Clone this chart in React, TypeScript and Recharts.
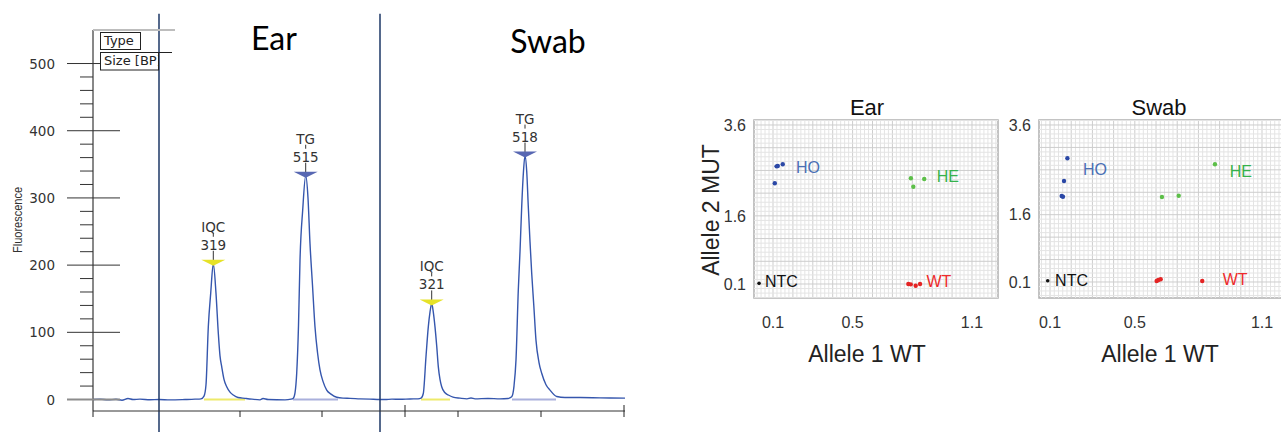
import React from 'react';
import {
  ComposedChart,
  Line,
  XAxis,
  YAxis,
  ReferenceLine,
  ReferenceDot,
  ReferenceArea,
  ScatterChart,
  Scatter,
} from 'recharts';

// ---- electropherogram trace (scan position vs fluorescence) ----
const scan = [
  0, 7, 15, 23, 29, 35, 40, 47, 57, 66, 77, 92, 102, 108, 111, 113, 115.3, 117.7, 120.3, 123, 125.3,
  127, 128.7, 131, 133.7, 137, 140.3, 145, 152, 159, 167, 170, 175, 192, 198, 200.3, 202, 203.7,
  205.5, 207, 209.7, 212.7, 215, 217, 219.5, 222, 224.5, 227, 230, 233.7, 238, 243.7, 250, 257,
  267, 277, 287, 292, 299, 307, 317, 325, 328, 330.3, 333, 335.3, 337, 338.7, 340.3, 342, 343.7,
  345.3, 347, 348.7, 352, 355.3, 360, 367, 374, 378, 382, 395, 407, 415, 418.7, 421, 423, 425.3,
  427, 428.7, 430.5, 432, 433.7, 435.3, 437, 438.7, 440.8, 443, 446, 448.7, 453, 457, 463.7, 472,
  487, 507, 532,
];
const rfu = [
  0, 0.5, -0.6, 0.3, -1, 1.5, 0, 0.5, -0.3, 0, -0.5, 0, 0.5, 1, 5, 22, 108, 158, 202, 158, 99,
  65, 49, 30, 19, 11, 6.7, 3, 1.7, 0.5, -0.5, 1.5, 0, -0.5, 0.5, 2, 10, 39,
  110, 207, 282, 333, 300, 232, 170, 108, 70, 44, 27, 14, 8, 3.3, 2, 1.7,
  1, 0.5, 0, 0, 0.5, 0.3, 0.8, 1, 2, 9, 64, 108, 130, 143, 130, 108, 80,
  49, 30, 19, 10, 6.7, 3.5, 2, 1, 2.2, 1, 1.5, 1, 1.5, 4, 20, 59, 163,
  220, 287, 340, 363, 340, 287, 235, 188, 140, 88, 55, 39, 22, 14, 4.5, 3,
  3, 2.5, 2,
];

// called peaks
const peakScan = [120.3, 212.7, 338.7, 432];
const peakRfu = [202, 333, 143, 363];
const peakName = ['IQC', 'TG', 'IQC', 'TG'];
const peakSize = ['319', '515', '321', '518'];

// baseline windows under each peak
const binStart = [111, 200, 328, 419];
const binEnd = [152, 245, 357, 463];

const fluorTicks = [
  0, 20, 40, 60, 80, 100, 120, 140, 160, 180, 200, 220, 240, 260, 280, 300, 320, 340, 360, 380,
  400, 420, 440, 460, 480, 500,
];
const scanTicks = [0, 147, 229, 312, 365, 448, 531];
const scanStarts = [312, 531];
const sampleDividers = [66, 287];

// ---- allelic discrimination plots ----
const alleleTicksX = [0.1, 0.5, 1.1];
const alleleTicksY = [0.1, 1.6, 3.6];

const earHOx = [0.124, 0.118, 0.149, 0.109];
const earHOy = [2.697, 2.69, 2.735, 2.317];
const earHEx = [0.793, 0.805, 0.86];
const earHEy = [2.427, 2.242, 2.411];
const earWTx = [0.78, 0.792, 0.817, 0.839];
const earWTy = [0.1, 0.093, 0.063, 0.1];
const earNTCx = [0.03];
const earNTCy = [0.115];

const swabHOx = [0.182, 0.166, 0.155, 0.161];
const swabHOy = [2.857, 2.351, 2.017, 2.001];
const swabHEx = [0.878, 0.628, 0.707];
const swabHEy = [2.724, 1.995, 2.024];
const swabWTx = [0.603, 0.611, 0.622, 0.818];
const swabWTy = [0.122, 0.145, 0.16, 0.122];
const swabNTCx = [0.089];
const swabNTCy = [0.129];

const traceData = scan.map((s, i) => ({ scan: s, rfu: rfu[i] }));
const pts = (xs: number[], ys: number[]) => xs.map((x, i) => ({ x, y: ys[i] }));

const gridX: number[] = [];
for (let i = 0; i <= 62; i++) gridX.push(+(i * 0.02).toFixed(3));
const gridY: number[] = [];
for (let i = -2; i <= 37; i++) gridY.push(+(i * 0.1).toFixed(2));

const sans = '"Liberation Sans", Arial, sans-serif';
const dv = '"DejaVu Sans", sans-serif';

const FluorTick = (props: any) => {
  const { x, y, payload } = props;
  const v = payload.value;
  if (v % 100 !== 0) return <line x1={x - 13} x2={x} y1={y} y2={y} stroke="#333" />;
  return (
    <g>
      <line
        x1={x - 26}
        x2={x + 27}
        y1={y}
        y2={y}
        stroke={v === 0 ? '#8c8c8c' : '#333'}
        strokeWidth={v === 0 ? 2 : 1}
      />
      <text x={x - 38} y={y + 5} textAnchor="end" fontSize={13.5} fontFamily={dv} fill="#333">
        {v}
      </text>
    </g>
  );
};

const ScanTick = (props: any) => {
  const { x, y, payload } = props;
  const start = scanStarts.includes(payload.value);
  return <line x1={x} x2={x} y1={start ? y - 6 : y} y2={y + 6} stroke="#222" />;
};

const PeakMark = (props: any) => {
  const { cx, cy, name, size } = props;
  const fill = name === 'IQC' ? '#e6e228' : '#5767b2';
  return (
    <g>
      <line x1={cx} x2={cx} y1={cy - 13} y2={cy - 3} stroke="#333" />
      <polygon points={`${cx - 12},${cy - 4} ${cx + 12},${cy - 4} ${cx},${cy + 2}`} fill={fill} />
      <line x1={cx} x2={cx} y1={cy - 31} y2={cy - 27} stroke="#333" />
      <text x={cx} y={cy - 14} textAnchor="middle" fontSize={13.5} fontFamily={dv} fill="#333">
        {size}
      </text>
      <text x={cx} y={cy - 32} textAnchor="middle" fontSize={13.5} fontFamily={dv} fill="#333">
        {name}
      </text>
    </g>
  );
};

function Electropherogram() {
  return (
    <ComposedChart width={640} height={432} data={traceData} margin={{ top: 30, right: 15, bottom: 0, left: 0 }}>
      <XAxis
        type="number"
        dataKey="scan"
        domain={[0, 532]}
        ticks={scanTicks}
        interval={0}
        allowDataOverflow
        height={21}
        tickSize={0}
        tickMargin={0}
        tick={<ScanTick />}
        axisLine={{ stroke: '#333' }}
      />
      <YAxis
        type="number"
        domain={[-17.1, 549.9]}
        ticks={fluorTicks}
        interval={0}
        allowDataOverflow
        width={93}
        tickSize={0}
        tickMargin={0}
        tick={<FluorTick />}
        axisLine={{ stroke: '#111' }}
      />
      {binStart.map((s, i) => (
        <ReferenceLine
          key={'bin' + i}
          segment={[{ x: s, y: 0 }, { x: binEnd[i], y: 0 }]}
          stroke={peakName[i] === 'IQC' ? '#eeea6a' : '#aab0dc'}
          strokeWidth={2}
        />
      ))}
      <Line
        type="monotone"
        dataKey="rfu"
        stroke="#3556ad"
        strokeWidth={1.4}
        dot={false}
        isAnimationActive={false}
      />
      {sampleDividers.map((d) => (
        <ReferenceLine
          key={'div' + d}
          segment={[{ x: d, y: -49 }, { x: d, y: 574 }]}
          ifOverflow="visible"
          stroke="#1d3766"
          strokeWidth={1.5}
        />
      ))}
      {peakScan.map((s, i) => (
        <ReferenceDot
          key={'pk' + i}
          x={s}
          y={peakRfu[i]}
          ifOverflow="visible"
          shape={(p: any) => <PeakMark cx={p.cx} cy={p.cy} name={peakName[i]} size={peakSize[i]} />}
        />
      ))}
    </ComposedChart>
  );
}

type Series = { xs: number[]; ys: number[]; color: string; r: number };
type Tag = { text: string; x: number; y: number; color: string; anchor: 'start' | 'middle' };

function GenotypePlot({
  xDomain,
  yDomain,
  series,
  tags,
}: {
  xDomain: [number, number];
  yDomain: [number, number];
  series: Series[];
  tags: Tag[];
}) {
  return (
    <ScatterChart width={300} height={260} margin={{ top: 40, right: 2, bottom: 0, left: 0 }}>
      <XAxis
        type="number"
        dataKey="x"
        domain={xDomain}
        ticks={alleleTicksX}
        interval={0}
        allowDataOverflow
        height={42}
        tickLine={false}
        axisLine={false}
        tickMargin={13}
        tick={{ fontSize: 16, fill: '#333', fontFamily: sans }}
      />
      <YAxis
        type="number"
        dataKey="y"
        domain={yDomain}
        ticks={alleleTicksY}
        interval={0}
        allowDataOverflow
        width={54}
        tickLine={false}
        axisLine={false}
        tickMargin={2}
        tick={{ fontSize: 16, fill: '#333', fontFamily: sans }}
      />
      {gridX.map((v, i) => (
        <ReferenceLine key={'gx' + v} x={v} stroke={i % 5 === 0 ? '#cdcdcd' : '#e4e4e4'} strokeWidth={1} />
      ))}
      {gridY.map((v, i) => (
        <ReferenceLine key={'gy' + v} y={v} stroke={(i + 2) % 5 === 0 ? '#cdcdcd' : '#e4e4e4'} strokeWidth={1} />
      ))}
      <ReferenceArea
        x1={xDomain[0]}
        x2={xDomain[1]}
        y1={yDomain[0]}
        y2={yDomain[1]}
        fill="none"
        fillOpacity={0}
        stroke="#b0b0b0"
        strokeWidth={1.5}
        ifOverflow="visible"
      />
      {series.map((s, i) => (
        <Scatter
          key={'s' + i}
          data={pts(s.xs, s.ys)}
          isAnimationActive={false}
          shape={(p: any) => <circle cx={p.cx} cy={p.cy} r={s.r} fill={s.color} />}
        />
      ))}
      {tags.map((t) => (
        <ReferenceDot
          key={t.text}
          x={t.x}
          y={t.y}
          ifOverflow="visible"
          shape={(p: any) => (
            <text x={p.cx} y={p.cy + 5} textAnchor={t.anchor} fontSize={16} fontFamily={sans} fill={t.color}>
              {t.text}
            </text>
          )}
        />
      ))}
    </ScatterChart>
  );
}

const HO = '#2b48a6';
const HE = '#5cbf48';
const WT = '#e42424';
const NTC = '#111';

export default function App() {
  return (
    <div
      style={{
        position: 'absolute',
        left: 0,
        top: 0,
        width: 1281,
        height: 432,
        background: '#fff',
        overflow: 'hidden',
        fontFamily: sans,
      }}
    >
      <div style={{ position: 'absolute', left: 0, top: 0 }}>
        <Electropherogram />
      </div>
      <div style={{ position: 'absolute', left: 700, top: 80 }}>
        <GenotypePlot
          xDomain={[0.0045, 1.2307]}
          yDomain={[-0.208, 3.71]}
          series={[
            { xs: earHOx, ys: earHOy, color: HO, r: 2.2 },
            { xs: earHEx, ys: earHEy, color: HE, r: 2.2 },
            { xs: earWTx, ys: earWTy, color: WT, r: 2.2 },
            { xs: earNTCx, ys: earNTCy, color: NTC, r: 1.8 },
          ]}
          tags={[
            { text: 'HO', x: 0.276, y: 2.653, color: '#4a6fb5', anchor: 'middle' },
            { text: 'HE', x: 0.979, y: 2.455, color: '#35b24b', anchor: 'middle' },
            { text: 'WT', x: 0.934, y: 0.144, color: '#ee2b2b', anchor: 'middle' },
            { text: 'NTC', x: 0.06, y: 0.144, color: '#111', anchor: 'start' },
          ]}
        />
      </div>
      <div style={{ position: 'absolute', left: 985, top: 80 }}>
        <GenotypePlot
          xDomain={[0.048, 1.199]}
          yDomain={[-0.257, 3.711]}
          series={[
            { xs: swabHOx, ys: swabHOy, color: HO, r: 2.2 },
            { xs: swabHEx, ys: swabHEy, color: HE, r: 2.2 },
            { xs: swabWTx, ys: swabWTy, color: WT, r: 2.2 },
            { xs: swabNTCx, ys: swabNTCy, color: NTC, r: 1.8 },
          ]}
          tags={[
            { text: 'HO', x: 0.312, y: 2.597, color: '#4a6fb5', anchor: 'middle' },
            { text: 'HE', x: 1.0, y: 2.545, color: '#35b24b', anchor: 'middle' },
            { text: 'WT', x: 0.973, y: 0.145, color: '#ee2b2b', anchor: 'middle' },
            { text: 'NTC', x: 0.124, y: 0.122, color: '#111', anchor: 'start' },
          ]}
        />
      </div>
      <svg
        width={1281}
        height={432}
        style={{ position: 'absolute', left: 0, top: 0, pointerEvents: 'none' }}
      >
        <defs>
          <clipPath id="sizeClip">
            <rect x={99} y={50} width={59} height={24} />
          </clipPath>
        </defs>
        {/* electropherogram header */}
        <line x1={93} x2={175} y1={30} y2={30} stroke="#bdbdbd" strokeWidth={2} />
        <line x1={140} x2={172} y1={52.5} y2={52.5} stroke="#222" />
        <rect x={100.5} y={32.5} width={40} height={17} fill="#fff" stroke="#222" />
        <text x={104} y={45} fontSize={13} fontFamily={dv} fill="#222">Type</text>
        <rect x={100.5} y={52.5} width={58} height={17.5} fill="#fff" stroke="#222" />
        <text x={104} y={65} fontSize={13} fontFamily={dv} fill="#222" clipPath="url(#sizeClip)">
          Size [BP]
        </text>
        <text x={22} y={220} transform="rotate(-90 22 220)" textAnchor="middle" fontSize={13} fontFamily={sans} fill="#333" textLength={66} lengthAdjust="spacingAndGlyphs">
          Fluorescence
        </text>
        <text x={274} y={50} textAnchor="middle" fontSize={32} fontFamily="Lato, sans-serif" fill="#000">Ear</text>
        <text x={548} y={53} textAnchor="middle" fontSize={32} fontFamily="Lato, sans-serif" fill="#000">Swab</text>
        {/* allele plot titles */}
        <text x={867} y={115} textAnchor="middle" fontSize={22} fill="#111">Ear</text>
        <text x={1159} y={115} textAnchor="middle" fontSize={22} fill="#111">Swab</text>
        <text x={867} y={362} textAnchor="middle" fontSize={23} fill="#222">Allele 1 WT</text>
        <text x={1160} y={362} textAnchor="middle" fontSize={23} fill="#222">Allele 1 WT</text>
        <text x={719} y={210} transform="rotate(-90 719 210)" textAnchor="middle" fontSize={23} fill="#222">
          Allele 2 MUT
        </text>
      </svg>
    </div>
  );
}
